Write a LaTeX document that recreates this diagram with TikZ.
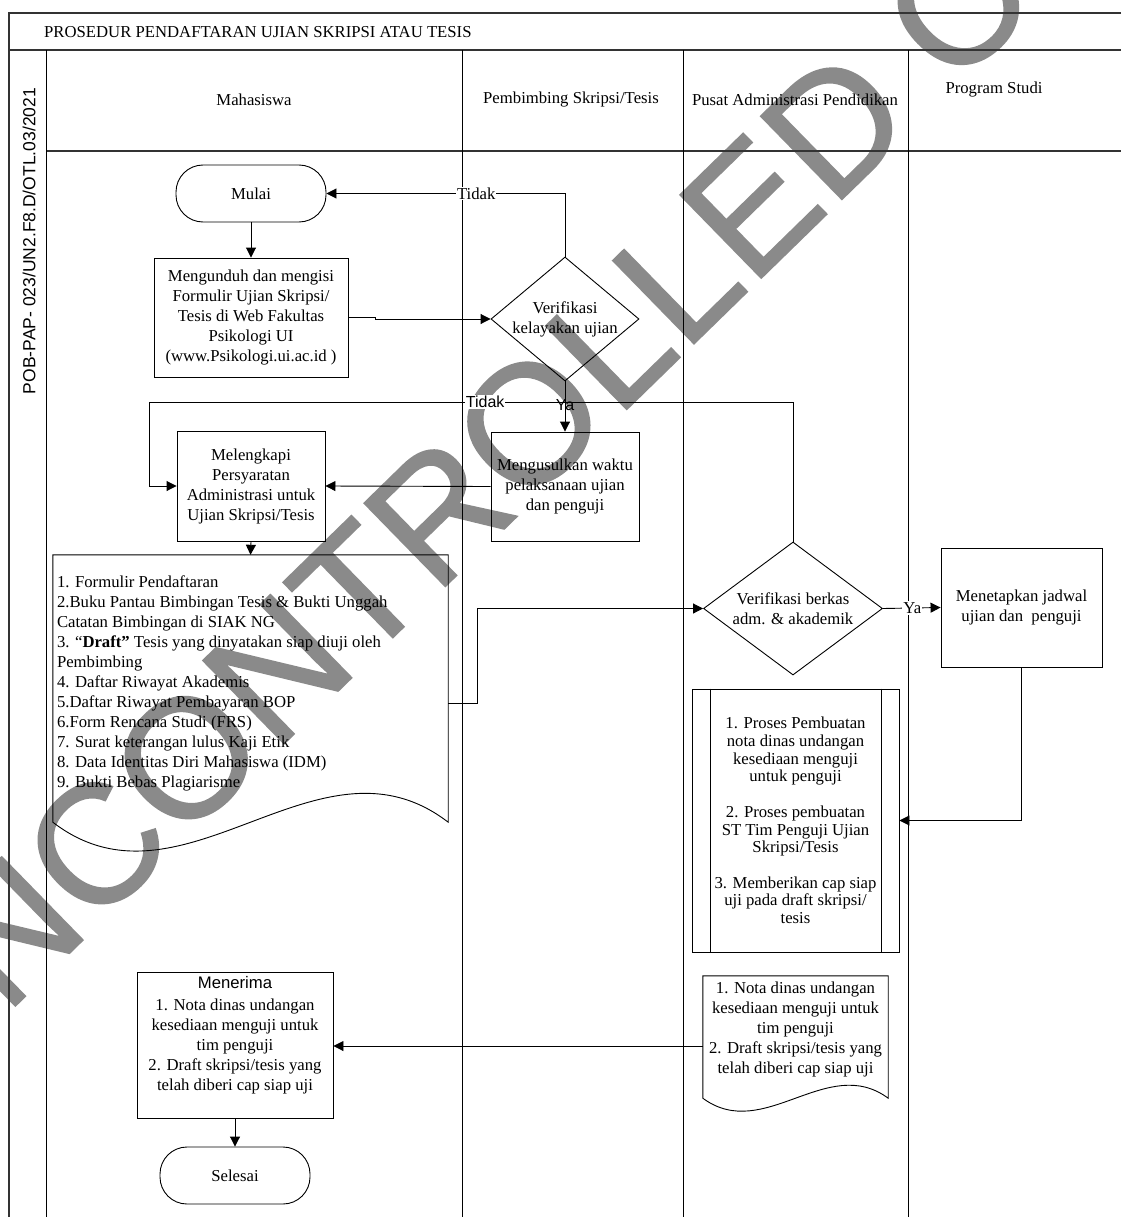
\documentclass[tikz,border=0pt]{standalone}
\usepackage{fontspec}
\setmainfont{Liberation Serif}
\newfontfamily\arial{Liberation Sans}
\newfontfamily\stempelfont[FakeBold=0.9]{Liberation Sans}
\usetikzlibrary{shapes.geometric,arrows.meta}
\definecolor{abu}{HTML}{8A8A8A}

\tikzset{
  kotak/.style={draw, rectangle, line width=0.9pt, align=center, inner sep=2pt},
  terminal/.style={draw, rectangle, rounded corners=27pt, line width=0.9pt, minimum width=150pt, minimum height=57pt},
  belah/.style={draw, diamond, line width=0.9pt, align=center, inner sep=0pt},
  garis/.style={line width=0.9pt},
  panah/.style={line width=0.9pt, -{Triangle[length=10pt,width=10pt]}},
  bingkai/.style={line width=1.3pt, black!80},
  ket/.style={fill=white, inner sep=1pt, font=\arial\fontsize{16}{18}\selectfont}
}

\begin{document}
\begin{tikzpicture}[x=1pt, y=-1pt, every node/.style={font=\fontsize{16.7}{20}\selectfont}]
\useasboundingbox (0,0) rectangle (1121,1217);

% cap latar
\node[anchor=base west, rotate=44.3, inner sep=0pt, text=abu, font=\stempelfont\fontsize{169}{169}\selectfont] (stempel) at (-82,1101) {UNCONTROLLED COPY};

% bingkai dan lajur
\draw[bingkai] (1121,13) -- (9,13) -- (9,1217);
\draw[bingkai] (9,50) -- (1121,50);
\draw[bingkai] (46,151) -- (1121,151);
\foreach \x in {46,462,683,908} \draw[garis] (\x,50) -- (\x,1217);

\node[anchor=west, inner sep=0pt] (judul) at (44,32) {PROSEDUR PENDAFTARAN UJIAN SKRIPSI ATAU TESIS};
\node[rotate=90, inner sep=0pt, font=\arial\fontsize{17.5}{20}\selectfont] (kode) at (29,241) {POB-PAP- 023/UN2.F8.D/OTL.03/2021};
\node (mhs) at (254,100) {Mahasiswa};
\node (pbb) at (571,100) {Pembimbing Skripsi/Tesis};
\node (pad) at (795,100) {Pusat Administrasi Pendidikan};
\node (prodi) at (994,90) {Program Studi};

% langkah
\node[terminal] (mulai) at (251,193.5) {Mulai};
\node[kotak, minimum width=194pt, minimum height=119pt] (unduh) at (251,317.5) {Mengunduh dan mengisi\\Formulir Ujian Skripsi/\\Tesis di Web Fakultas\\Psikologi UI\\(www.Psikologi.ui.ac.id )};
\node[belah, aspect=1.2, minimum width=148pt, minimum height=124pt] (verif1) at (565,319) {Verifikasi\\kelayakan ujian};
\node[kotak, minimum width=148pt, minimum height=109pt] (usul) at (565,486.5) {Mengusulkan waktu\\pelaksanaan ujian\\dan penguji};
\node[kotak, minimum width=148pt, minimum height=110pt] (lengkap) at (251,486) {Melengkapi\\Persyaratan\\Administrasi untuk\\Ujian Skripsi/Tesis};
\coordinate (belok) at (149,402);

\node[minimum width=395pt, minimum height=267pt, inner sep=0pt] (syarat) at (250.5,688.5) {};
\draw[garis] (syarat.north west) -- (syarat.north east) -- (syarat.south east) .. controls +(-130,-100) and +(130,100) .. (syarat.south west) -- cycle;
\node[anchor=north west, align=left, inner sep=0pt] (syaratisi) at ([xshift=4pt,yshift=-21pt]syarat.north west) {1. Formulir Pendaftaran\\2.Buku Pantau Bimbingan Tesis \& Bukti Unggah\\Catatan Bimbingan di SIAK NG\\3. “\textbf{Draft”} Tesis yang dinyatakan siap diuji oleh\\Pembimbing\\4. Daftar Riwayat Akademis\\5.Daftar Riwayat Pembayaran BOP\\6.Form Rencana Studi (FRS)\\7. Surat keterangan lulus Kaji Etik\\8. Data Identitas Diri Mahasiswa (IDM)\\9. Bukti Bebas Plagiarisme};

\node[belah, aspect=1.35, minimum width=179pt, minimum height=133pt] (verif2) at (793,608.5) {Verifikasi berkas\\adm. \& akademik};
\node[kotak, minimum width=161pt, minimum height=119pt] (tetap) at (1021.5,607.5) {Menetapkan jadwal\\ujian dan\ \ penguji};
\node[kotak, minimum width=207pt, minimum height=263pt, font=\fontsize{16.7}{17.7}\selectfont] (buat) at (795.5,820.5) {1. Proses Pembuatan\\nota dinas undangan\\kesediaan menguji\\untuk penguji\\[17.7pt]2. Proses pembuatan\\ST Tim Penguji Ujian\\Skripsi/Tesis\\[17.7pt]3. Memberikan cap siap\\uji pada draft skripsi/\\tesis};
\draw[garis] ([xshift=19pt]buat.north west) -- ([xshift=19pt]buat.south west);
\draw[garis] ([xshift=-18pt]buat.north east) -- ([xshift=-18pt]buat.south east);

\node[minimum width=185pt, minimum height=122pt, inner sep=0pt] (nota) at (795.5,1037) {};
\draw[garis] (nota.north west) -- (nota.north east) -- (nota.south east) .. controls +(-61,-45) and +(61,45) .. (nota.south west) -- cycle;
\node[align=center, inner sep=0pt] (notaisi) at ([yshift=8pt]nota.center) {1. Nota dinas undangan\\kesediaan menguji untuk\\tim penguji\\2. Draft skripsi/tesis yang\\telah diberi cap siap uji};

\node[kotak, minimum width=196pt, minimum height=146pt] (terima) at (235,1045) {};
\node[align=center, inner sep=0pt] (terimaisi) at ([yshift=9.5pt]terima.center) {{\arial Menerima}\\[2pt]1. Nota dinas undangan\\kesediaan menguji untuk\\tim penguji\\2. Draft skripsi/tesis yang\\telah diberi cap siap uji};
\node[terminal] (selesai) at (235,1175.5) {Selesai};

% alur
\draw[panah] (mulai.south) -- (unduh.north);
\draw[panah] (unduh.east) -- ++(27,0) |- (verif1.west);
\draw[panah] (verif1.north) |- (mulai.east) node[fill=white, inner sep=1pt, pos=0.686] (tidak1) {Tidak};
\draw[panah] (verif1.south) -- (usul.north) node[pos=0.47, inner sep=0pt, font=\arial\fontsize{16}{18}\selectfont] (ya1) {Ya};
\draw[panah] (usul.west) -- (lengkap.east);
\draw[panah] (verif2.north) |- (belok) node[ket, pos=0.739] (tidak2) {Tidak} |- (lengkap.west);
\draw[panah] (lengkap.south) -- (syarat.north);
\draw[panah] ([yshift=-14.5pt]syarat.east) -- ++(29,0) |- (verif2.west);
\draw[panah] (verif2.east) -- (tetap.west) node[pos=0.51, fill=white, inner sep=1pt] (ya2) {Ya};
\draw[panah] (tetap.south) |- (buat.east);
\draw[panah] ([yshift=-9pt]nota.west) -- ([yshift=-1pt]terima.east);
\draw[panah] (terima.south) -- (selesai.north);
\end{tikzpicture}
\end{document}
